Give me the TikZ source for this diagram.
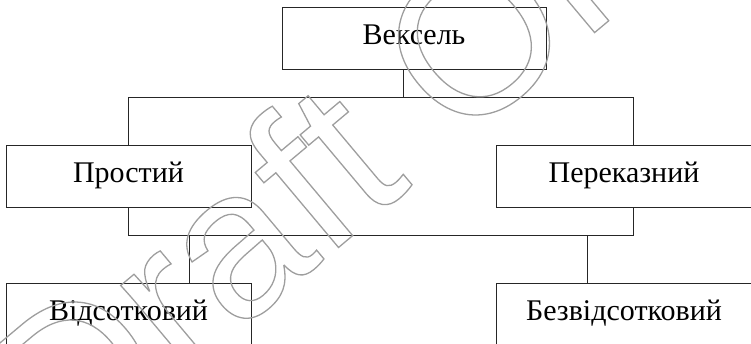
\documentclass[tikz,border=0pt]{standalone}
\usepackage{fontspec}
\setmainfont{Liberation Serif}
\newfontfamily\wmfont{Liberation Sans}
% outlined (stroked, unfilled) text
\newcommand\strokedtext[1]{\special{pdf:literal direct 1 Tr 1.3 w}#1\special{pdf:literal direct 0 Tr}}
\begin{document}
\begin{tikzpicture}[x=1pt,y=-1pt,
  box/.style={draw=black!85, line width=1pt, rectangle, inner sep=0pt,
    minimum height=61.5pt, font=\fontsize{30}{30}\selectfont,
    text height=20pt, text depth=8pt},
  link/.style={draw=black!85, line width=1pt}]
\useasboundingbox (0,0) rectangle (751,344);

% boxes
\node[box, minimum width=264pt] (vek)   at (414,38.3)  {Вексель};
\node[box, minimum width=245pt] (prost) at (128.5,176.5) {Простий};
\node[box, minimum width=256pt] (perek) at (624,176.5)  {Переказний};
\node[box, minimum width=245pt, minimum height=62pt] (vids) at (128.5,314) {Відсотковий};
\node[box, minimum width=256pt, minimum height=62pt] (bez)  at (624,314)  {Безвідсотковий};

% junction points
\coordinate (jt) at (403,98);
\coordinate (jl) at (128,98);
\coordinate (jr) at (633,98);
\coordinate (kl) at (128,236);
\coordinate (kr) at (633,236);
\coordinate (ml) at (189,236);
\coordinate (mr) at (587,236);

% connectors
\draw[link] (vek.south -| jt) -- (jt);
\draw[link] (prost.north -| jl) -- (jl) -- (jr) -- (perek.north -| jr);
\draw[link] (prost.south -| jl) -- (kl) -- (kr) -- (perek.south -| jr);
\draw[link] (ml) -- (vids.north -| ml);
\draw[link] (mr) -- (bez.north -| mr);

% watermark
\node[anchor=base west, rotate=40, inner sep=0pt, text=black!38,
  font=\wmfont\fontsize{210}{210}\selectfont] (wm) at (65,477) {\strokedtext{Draft Only}};
\end{tikzpicture}
\end{document}
